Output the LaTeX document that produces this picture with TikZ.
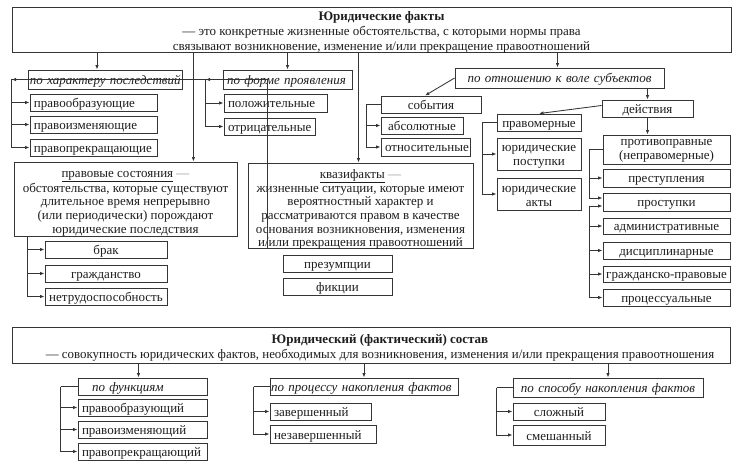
\documentclass[tikz,border=0pt]{standalone}
\usepackage{fontspec}
\setmainfont{Liberation Serif}
\usetikzlibrary{arrows.meta}
\definecolor{linec}{HTML}{353535}
\definecolor{txt}{HTML}{1E1E1E}
\newcommand\fs{\fontsize{13}{13.7}\selectfont}
\newcommand\fsbig{\fontsize{13}{15}\selectfont}
% one-line box: [opts]{x1}{y1}{x2}{y2}{name}{text}
\newcommand\bx[7][]{\node[box,oneline,text width={(#4-#2-8)*1pt},minimum height={(#5-#3)*1pt},#1] (#6) at ({(#2+#4)/2},{(#3+#5)/2}) {\mbox{#7}};}
% multi-line box: [opts]{x1}{y1}{x2}{y2}{name}{dy}{text}
\newcommand\mbx[8][]{\node[box,minimum width={(#4-#2)*1pt},minimum height={(#5-#3)*1pt}] (#6) at ({(#2+#4)/2},{(#3+#5)/2}) {};
  \node[font=\fs,text=txt,align=center,inner sep=0pt,#1] (#6t) at ({(#2+#4)/2},{(#3+#5)/2+#7}) {#8};}
\begin{document}
\begin{tikzpicture}[x=1pt,y=-1pt,
  box/.style={draw=linec,line width=0.85pt,fill=white,inner xsep=4pt,inner ysep=0pt,font=\fs,text=txt,align=center},
  oneline/.style={text height=10pt,text depth=0pt},
  lft/.style={align=left},
  itl/.style={font=\fs\itshape},
  arr/.style={draw=linec,line width=0.85pt,-{Latex[length=4.5pt,width=3.4pt]}},
  ln/.style={draw=linec,line width=0.85pt}]
\useasboundingbox (0,0) rectangle (745,465);
\fill[white] (0,0) rectangle (745,465);

% ---------- top ----------
\mbx[font=\fsbig,xshift=10pt]{12}{7}{731}{52}{top}{2.5}{{\bfseries Юридические факты}\\— это конкретные жизненные обстоятельства, с которыми нормы права\\связывают возникновение, изменение и/или прекращение правоотношений}

% left group
\bx[lft,itl,inner xsep=2pt,text width=150pt]{28}{70}{182}{89}{char}{по характеру последствий}
\bx[lft]{30}{94}{157}{111}{c1}{правообразующие}
\bx[lft]{30}{116}{157}{133}{c2}{правоизменяющие}
\bx[lft]{30}{139}{157}{156}{c3}{правопрекращающие}

\bx[lft,itl]{223}{70}{352}{89}{form}{по форме проявления}
\bx[lft]{224}{94}{327}{112}{f1}{положительные}
\bx[lft]{224}{118}{315}{135}{f2}{отрицательные}

% right group
\bx[itl]{455}{68}{664}{88}{rel}{по отношению к воле субъектов}
\bx{381}{96}{481}{113}{ev}{события}
\bx{381}{117}{463}{134}{ev1}{абсолютные}
\bx{381}{138}{470}{156}{ev2}{относительные}

\bx{602}{100}{693}{117}{act}{действия}
\bx{497}{114}{581}{131}{pm}{правомерные}
\mbx{497}{138}{581}{170}{pm1}{2.5}{юридические\\поступки}
\mbx{497}{178}{581}{210}{pm2}{2.5}{юридические\\акты}

\mbx{603}{135}{730}{164}{pp}{1}{противоправные\\(неправомерные)}
\bx{603}{169}{730}{187}{pp1}{преступления}
\bx{603}{193}{730}{211}{pp2}{проступки}
\bx{603}{218}{730}{234}{pp3}{административные}
\bx{603}{242}{730}{259}{pp4}{дисциплинарные}
\bx[inner xsep=1pt,text width=125pt]{603}{266}{730}{282}{pp5}{гражданско-правовые}
\bx{603}{289}{730}{306}{pp6}{процессуальные}

% middle states
\mbx{14}{162}{237}{236}{ps}{4.5}{\underline{правовые состояния} {\color{black!40}—}\\обстоятельства, которые существуют\\длительное время непрерывно\\(или периодически) порождают\\юридические последствия}
\bx{45}{241}{167}{258}{b1}{брак}
\bx{45}{265}{167}{282}{b2}{гражданство}
\bx{45}{288}{167}{305}{b3}{нетрудоспособность}

\mbx{248}{163}{473}{248}{kv}{4}{\underline{квазифакты} {\color{black!40}—}\\жизненные ситуации, которые имеют\\вероятностный характер и\\рассматриваются правом в качестве\\основания возникновения, изменения\\и/или прекращения правоотношений}
\bx{283}{255}{392}{272}{k1}{презумпции}
\bx{283}{278}{392}{295}{k2}{фикции}

% ---------- bottom ----------
\mbx[font=\fsbig,xshift=9pt]{12}{327}{730}{363}{bot}{3}{{\bfseries Юридический (фактический) состав}\\{\fontsize{12.9}{15}\selectfont— совокупность юридических фактов, необходимых для возникновения, изменения и/или прекращения правоотношения}}

\bx[lft,itl]{78}{378}{207}{395}{fn}{\hspace*{10pt}по функциям}
\bx[lft]{78}{399}{207}{416}{fn1}{правообразующий}
\bx[lft]{78}{421}{207}{438}{fn2}{правоизменяющий}
\bx[lft]{78}{443}{207}{460}{fn3}{правопрекращающий}

\bx[lft,itl,inner xsep=1pt,text width=186pt]{270}{378}{458}{395}{pr}{по процессу накопления фактов}
\bx[lft]{270}{403}{371}{420}{pr1}{завершенный}
\bx[lft]{270}{425}{376}{443}{pr2}{незавершенный}

\bx[itl]{513}{378}{703}{397}{sp}{по способу накопления фактов}
\bx{513}{403}{605}{420}{sp1}{сложный}
\bx{513}{425}{605}{445}{sp2}{смешанный}

% ---------- connectors: top ----------
\path ([xshift=-8pt]char.north) coordinate (a1);
\draw[arr] (top.south -| a1) -- (a1);
\path ([xshift=-44pt]ps.north east) coordinate (a2);
\draw[arr] (top.south -| a2) -- (a2);
\draw[arr] (top.south -| form.north) -- (form.north);
\path ([xshift=-2pt]kv.north) coordinate (a3);
\draw[arr] (top.south -| a3) -- (a3);
\path ([xshift=-2pt]rel.north) coordinate (a4);
\draw[arr] (top.south -| a4) -- (a4);

\draw[ln] (char.west) -- ++(-16,0) coordinate (k1);
\draw[arr] (k1) |- (c1.west);
\draw[arr] (k1) |- (c2.west);
\draw[arr] (k1) |- (c3.west);

\draw[ln] (form.west) -- ++(-17,0) coordinate (k2);
\draw[arr] (k2) |- (f1.west);
\draw[arr] (k2) |- (f2.west);

\draw[arr] (rel.west) -- ([xshift=-6pt]ev.north);
\draw[ln] (ev.west) -- ++(-14,0) coordinate (k3);
\draw[arr] (k3) |- (ev1.west);
\draw[arr] (k3) |- (ev2.west);

\draw[arr] (rel.south -| act.north) -- (act.north);
\draw[arr] ([yshift=3pt]act.west) -- (pm.north);
\draw[ln] (pm.west) -- ++(-14,0) coordinate (k4);
\draw[arr] (k4) |- (pm1.west);
\draw[arr] (k4) |- (pm2.west);

\draw[arr] (act.south) -- (act.south |- pp.north);
\draw[ln] (pp.west) -- ++(-13,0) coordinate (k5);
\draw[arr] (k5) |- (pp1.west);
\draw[arr] (k5) |- ([yshift=4pt]pp2.west);
\path ([xshift=-13pt,yshift=-4pt]pp2.west) coordinate (k6);
\draw[arr] (k6) -- ([yshift=-4pt]pp2.west);
\draw[arr] (k6) |- (pp3.west);
\draw[arr] (k6) |- (pp4.west);
\draw[arr] (k6) |- (pp5.west);
\draw[arr] (k6) |- (pp6.west);

\path ([xshift=14pt]ps.south west) coordinate (k7);
\draw[arr] (k7) |- (b1.west);
\draw[arr] (k7) |- (b2.west);
\draw[arr] (k7) |- (b3.west);

\path ([xshift=20pt]kv.south west) coordinate (k8);
\draw[arr] (k8) |- (k1.west);
\draw[arr] (k8) |- (k2.west);

% ---------- connectors: bottom ----------
\path ([xshift=-4pt]fn.north) coordinate (a6);
\draw[arr] (bot.south -| a6) -- (a6);
\draw[arr] (bot.south -| pr.north) -- (pr.north);
\draw[arr] (bot.south -| sp.north) -- (sp.north);

\draw[ln] (fn.west) -- ++(-17,0) coordinate (k9);
\draw[arr] (k9) |- (fn1.west);
\draw[arr] (k9) |- (fn2.west);
\draw[arr] (k9) |- (fn3.west);

\draw[ln] (pr.west) -- ++(-16,0) coordinate (k10);
\draw[arr] (k10) |- (pr1.west);
\draw[arr] (k10) |- (pr2.west);

\draw[ln] (sp.west) -- ++(-16,0) coordinate (k11);
\draw[arr] (k11) |- (sp1.west);
\draw[arr] (k11) |- (sp2.west);
\end{tikzpicture}
\end{document}
